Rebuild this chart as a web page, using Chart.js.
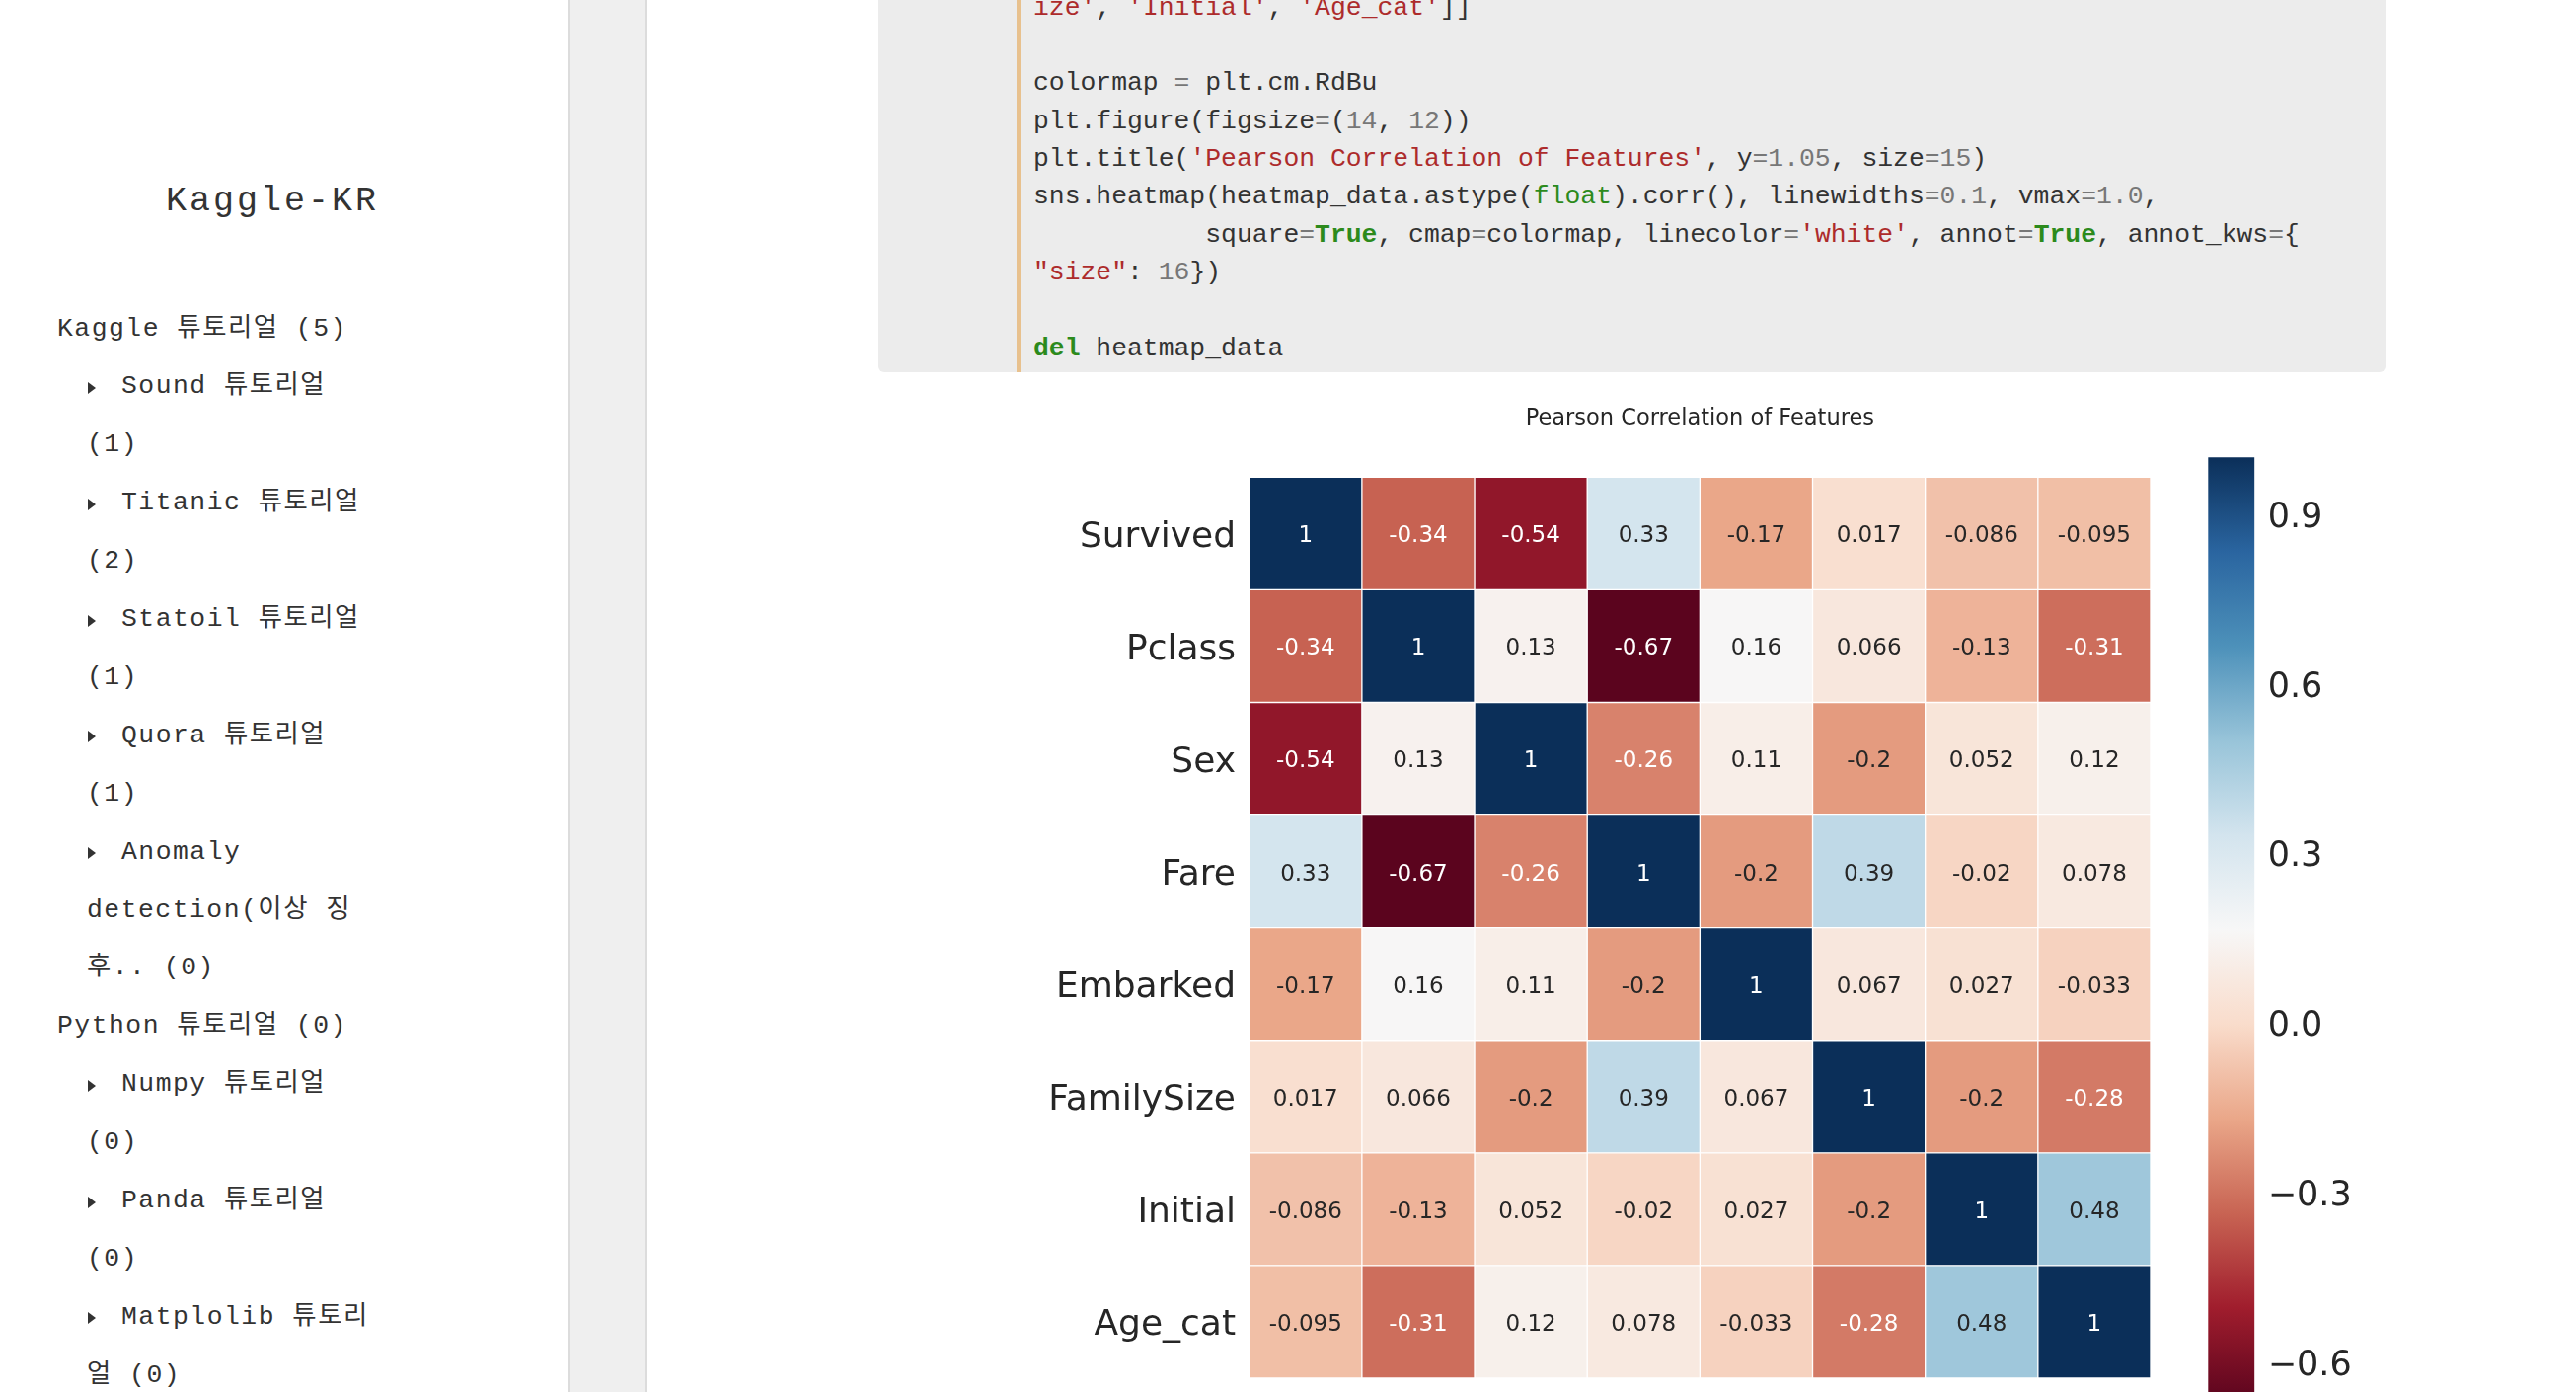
<!DOCTYPE html>
<html>
<head>
<meta charset="utf-8">
<script src="https://cdn.jsdelivr.net/npm/chart.js@4.4.1/dist/chart.umd.min.js"></script>
<style>
html,body{margin:0;padding:0;width:2610px;height:1410px;overflow:hidden;background:#fff;}
.sb{position:absolute;font-family:"Liberation Mono","Noto Sans CJK KR",monospace;color:#333;font-size:26.4px;letter-spacing:1.5px;white-space:pre;height:58.9px;line-height:58.9px;}
.arrow{position:absolute;width:0;height:0;border-left:8px solid #333;border-top:6px solid transparent;border-bottom:6px solid transparent;}
.brand{position:absolute;left:0;width:552px;text-align:center;font-family:"Liberation Mono",monospace;font-size:35px;letter-spacing:3px;color:#333;height:50px;line-height:50px;top:179px;}
.strip{position:absolute;left:576px;top:0;width:76px;height:1410px;background:#efefef;border-left:2px solid #dcdcdc;border-right:2px solid #dcdcdc;}
.codebox{position:absolute;left:890px;top:-30px;width:1527px;height:407px;background:#ececec;border-radius:6px;}
.codebar{position:absolute;left:1030px;top:-30px;width:4px;height:407px;background:#e8c18e;}
.cl{position:absolute;left:1047px;font-family:"Liberation Mono",monospace;font-size:26.4px;color:#333;white-space:pre;height:38.3px;line-height:38.3px;}
.s{color:#ad2b2b;} .n{color:#777;} .o{color:#777;} .k{color:#2c8a1c;font-weight:bold;} .b{color:#2c8a1c;}
canvas{position:absolute;}
</style>
</head>
<body>
<div class="brand">Kaggle-KR</div>
<div id="side"></div>
<div class="strip"></div>
<div class="codebox"></div>
<div class="codebar"></div>
<div id="code"></div>
<canvas id="hm" width="1230" height="1060" style="left:1000px;top:380px;width:1230px;height:1060px;"></canvas>
<canvas id="cb" width="410" height="1060" style="left:2200px;top:400px;width:410px;height:1060px;"></canvas>
<script>
// ---------- data ----------
const rowLabels = ['Survived','Pclass','Sex','Fare','Embarked','FamilySize','Initial','Age_cat'];
const colLabels = ['Survived','Pclass','Sex','Fare','Embarked','FamilySize','Initial','Age_cat'];
const survived   = [1, -0.34, -0.54, 0.33, -0.17, 0.017, -0.086, -0.095];
const pclass     = [-0.34, 1, 0.13, -0.67, 0.16, 0.066, -0.13, -0.31];
const sex        = [-0.54, 0.13, 1, -0.26, 0.11, -0.2, 0.052, 0.12];
const fare       = [0.33, -0.67, -0.26, 1, -0.2, 0.39, -0.02, 0.078];
const embarked   = [-0.17, 0.16, 0.11, -0.2, 1, 0.067, 0.027, -0.033];
const familySize = [0.017, 0.066, -0.2, 0.39, 0.067, 1, -0.2, -0.28];
const initial    = [-0.086, -0.13, 0.052, -0.02, 0.027, -0.2, 1, 0.48];
const ageCat     = [-0.095, -0.31, 0.12, 0.078, -0.033, -0.28, 0.48, 1];
const matrix = [survived, pclass, sex, fare, embarked, familySize, initial, ageCat];
const colorbarTicks = [-0.6, -0.3, 0.0, 0.3, 0.6, 0.9];
const chartTitle = 'Pearson Correlation of Features';
const vmax = 1.0;
const vmin = Math.min(...matrix.flat());

// ---------- page text ----------
const sideLines = [
  ['top', 'Kaggle 튜토리얼 (5)'],
  ['sub', 'Sound 튜토리얼'], ['cont', '(1)'],
  ['sub', 'Titanic 튜토리얼'], ['cont', '(2)'],
  ['sub', 'Statoil 튜토리얼'], ['cont', '(1)'],
  ['sub', 'Quora 튜토리얼'], ['cont', '(1)'],
  ['sub', 'Anomaly'], ['cont', 'detection(이상 징'], ['cont', '후.. (0)'],
  ['top', 'Python 튜토리얼 (0)'],
  ['sub', 'Numpy 튜토리얼'], ['cont', '(0)'],
  ['sub', 'Panda 튜토리얼'], ['cont', '(0)'],
  ['sub', 'Matplolib 튜토리'], ['cont', '얼 (0)']
];
const side = document.getElementById('side');
sideLines.forEach(([kind, txt], i) => {
  const cy = 333 + i * 58.9;
  const d = document.createElement('div');
  d.className = 'sb';
  d.textContent = txt;
  d.style.top = (cy - 29.45) + 'px';
  d.style.left = (kind === 'top' ? 58 : kind === 'sub' ? 123 : 88) + 'px';
  side.appendChild(d);
  if (kind === 'sub') {
    const a = document.createElement('div');
    a.className = 'arrow';
    a.style.left = '89px';
    a.style.top = (cy - 5) + 'px';
    side.appendChild(a);
  }
});

const codeLines = [
  `<span class="s">ize'</span>, <span class="s">'Initial'</span>, <span class="s">'Age_cat'</span>]]`,
  ``,
  `colormap <span class="o">=</span> plt.cm.RdBu`,
  `plt.figure(figsize<span class="o">=</span>(<span class="n">14</span>, <span class="n">12</span>))`,
  `plt.title(<span class="s">'Pearson Correlation of Features'</span>, y<span class="o">=</span><span class="n">1.05</span>, size<span class="o">=</span><span class="n">15</span>)`,
  `sns.heatmap(heatmap_data.astype(<span class="b">float</span>).corr(), linewidths<span class="o">=</span><span class="n">0.1</span>, vmax<span class="o">=</span><span class="n">1.0</span>,`,
  `           square<span class="o">=</span><span class="k">True</span>, cmap<span class="o">=</span>colormap, linecolor<span class="o">=</span><span class="s">'white'</span>, annot<span class="o">=</span><span class="k">True</span>, annot_kws<span class="o">=</span>{`,
  `<span class="s">"size"</span>: <span class="n">16</span>})`,
  ``,
  `<span class="k">del</span> heatmap_data`
];
const code = document.getElementById('code');
codeLines.forEach((h, i) => {
  const d = document.createElement('div');
  d.className = 'cl';
  d.innerHTML = h;
  d.style.top = (8 + i * 38.3 - 19.15) + 'px';
  code.appendChild(d);
});

// ---------- colormap (RdBu) ----------
const RDBU = [[103,0,31],[178,24,43],[214,96,77],[244,165,130],[253,219,199],[247,247,247],
              [209,229,240],[146,197,222],[67,147,195],[33,102,172],[5,48,97]];
function cmap(t) {
  t = Math.min(1, Math.max(0, t));
  const x = t * 10, i = Math.min(9, Math.floor(x)), f = x - i;
  return RDBU[i].map((c, k) => c + (RDBU[i + 1][k] - c) * f);
}
function shown(rgb) {
  const L = 0.2126 * rgb[0] + 0.7152 * rgb[1] + 0.0722 * rgb[2];
  const o = rgb.map(c => Math.max(0, Math.min(255, Math.round(L + (c - L) * 0.85))));
  return `rgb(${o[0]},${o[1]},${o[2]})`;
}
function norm(v) { return (v - vmin) / (vmax - vmin); }
function cellColor(v) { return shown(cmap(norm(v))); }
function relLum(rgb) {
  const lin = rgb.map(c => { c /= 255; return c <= 0.03928 ? c / 12.92 : Math.pow((c + 0.055) / 1.055, 2.4); });
  return 0.2126 * lin[0] + 0.7152 * lin[1] + 0.0722 * lin[2];
}
function textColor(v) { return relLum(cmap(norm(v))) > 0.408 ? '#262626' : '#ffffff'; }
function fmt2g(v) { return String(Number(v.toPrecision(2))); }

// ---------- heatmap ----------
const annotPlugin = {
  id: 'annot',
  afterDatasetsDraw(chart) {
    const ctx = chart.ctx;
    ctx.save();
    ctx.font = '23px "DejaVu Sans"';
    ctx.textAlign = 'center';
    ctx.textBaseline = 'middle';
    chart.data.datasets.forEach((ds, ci) => {
      const meta = chart.getDatasetMeta(ci);
      meta.data.forEach((el, ri) => {
        const v = matrix[ri][ci];
        const p = el.getCenterPoint();
        ctx.fillStyle = textColor(v);
        ctx.fillText(fmt2g(v), p.x, p.y + 3);
      });
    });
    ctx.restore();
  }
};

new Chart(document.getElementById('hm'), {
  type: 'bar',
  data: {
    labels: rowLabels,
    datasets: colLabels.map((c, ci) => ({
      label: c,
      data: rowLabels.map(() => [ci, ci + 1]),
      backgroundColor: matrix.map(row => cellColor(row[ci])),
      borderColor: '#ffffff',
      borderWidth: 1,
      borderSkipped: false,
      barPercentage: 1,
      categoryPercentage: 1,
      grouped: false
    }))
  },
  options: {
    indexAxis: 'y',
    responsive: false,
    animation: false,
    events: [],
    layout: { padding: { left: 0, top: 0, right: 51, bottom: 44 } },
    plugins: {
      legend: { display: false },
      tooltip: { enabled: false },
      title: {
        display: true, text: chartTitle, fullSize: false, color: '#262626',
        font: { family: 'DejaVu Sans', size: 22.5, weight: 'normal' },
        padding: { top: 30.5, bottom: 45.8 }
      }
    },
    scales: {
      x: { type: 'linear', min: 0, max: colLabels.length, display: false },
      y: {
        type: 'category',
        grid: { display: false, drawTicks: false },
        border: { display: false },
        ticks: { color: '#262626', font: { family: 'DejaVu Sans', size: 36 }, padding: 13.7, autoSkip: false, labelOffset: 4 },
        afterFit: s => { s.width = 265.7; }
      }
    }
  },
  plugins: [annotPlugin]
});

// ---------- colorbar ----------
function cbGradient(chart) {
  const { ctx, chartArea, scales } = chart;
  if (!chartArea) return null;
  const yTop = scales.y.getPixelForValue(vmax), yBot = scales.y.getPixelForValue(vmin);
  const g = ctx.createLinearGradient(0, yBot, 0, yTop);
  RDBU.forEach((c, i) => g.addColorStop(i / 10, shown(c)));
  return g;
}
new Chart(document.getElementById('cb'), {
  type: 'bar',
  data: {
    labels: ['colorbar'],
    datasets: [{
      data: [[vmin, vmax]],
      backgroundColor: ctx => cbGradient(ctx.chart),
      borderWidth: 0,
      barPercentage: 1,
      categoryPercentage: 1
    }]
  },
  options: {
    responsive: false,
    animation: false,
    events: [],
    layout: { padding: { left: 37.3, top: 63.3, right: 0, bottom: 1060 - (1420.2 - 400) } },
    plugins: { legend: { display: false }, tooltip: { enabled: false } },
    scales: {
      x: { display: false },
      y: {
        position: 'right', min: vmin, max: vmax,
        grid: { display: false, drawTicks: false },
        border: { display: false },
        afterBuildTicks: s => { s.ticks = colorbarTicks.map(v => ({ value: v })); },
        ticks: {
          color: '#262626', font: { family: 'DejaVu Sans', size: 35 }, padding: 13.4, labelOffset: 4,
          callback: v => (v < -1e-9 ? '\u2212' : '') + Math.abs(v).toFixed(1)
        },
        afterFit: s => { s.width = 410 - 37.3 - 47; }
      }
    }
  }
});
</script>
</body>
</html>
